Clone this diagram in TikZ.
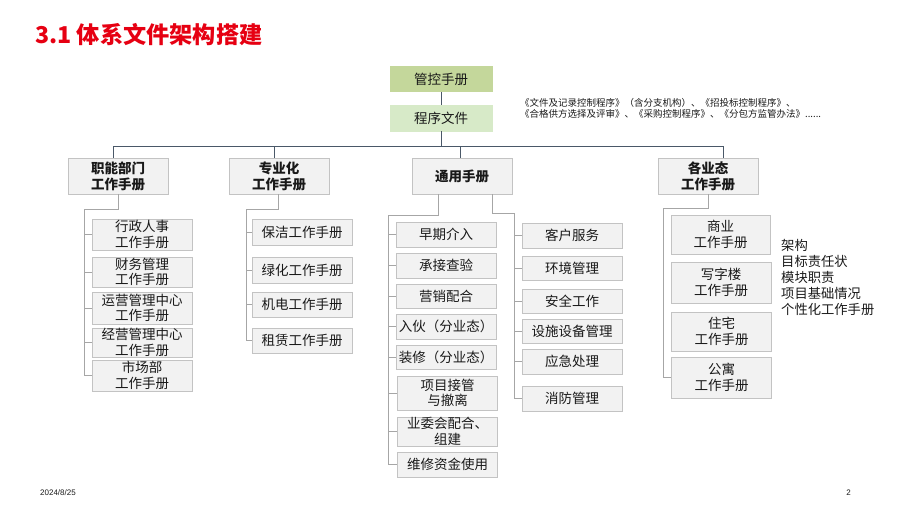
\documentclass[tikz,border=0pt]{standalone}
\usepackage{fontspec}
\setmainfont{Noto Sans CJK SC}
\newfontfamily\footfont{Liberation Sans}
\definecolor{titlered}{HTML}{E60012}
\definecolor{ctrlgreen}{HTML}{C4D79B}
\definecolor{procgreen}{HTML}{D7EAC8}
\definecolor{boxfill}{HTML}{F2F2F2}
\definecolor{boxline}{HTML}{C3C3C3}
\definecolor{busline}{HTML}{4A5868}
\definecolor{subline}{HTML}{A6A6A6}

\begin{document}
\begin{tikzpicture}
[x=1pt,y=-1pt,
every node/.style={inner sep=0pt,align=center,text=black!90,font=\fontsize{13.5}{15.5}\selectfont},
box/.style={draw=boxline,fill=boxfill,line width=.7pt,minimum width=100pt},
head/.style={box,minimum height=36pt,font=\fontsize{13.5}{16}\selectfont\bfseries},
bus/.style={draw=busline,line width=.8pt},
sub/.style={draw=subline,line width=.8pt}]
\useasboundingbox (0,0) rectangle (920,518);
\node[anchor=west,text=titlered,font=\fontsize{23.2}{26}\selectfont\bfseries] (title) at (35,35) {3.1 体系文件架构搭建};
\node[box,fill=ctrlgreen,draw=ctrlgreen,minimum width=102pt,minimum height=25pt] (ctrl) at (441,79) {管控手册};
\node[box,fill=procgreen,draw=procgreen,minimum width=102pt,minimum height=26pt] (proc) at (441,118) {程序文件};
\node[anchor=west,align=left,font=\fontsize{9.5}{11}\selectfont] (note) at (520,108.5) {《文件及记录控制程序》（含分支机构）、《招投标控制程序》、\\《合格供方选择及评审》、《采购控制程序》、《分包方监管办法》......};
\coordinate (bus) at (0,146);
\node[head] (func) at (118,176) {职能部门\\工作手册};
\node[head] (spec) at (279,176) {专业化\\工作手册};
\node[head] (gen) at (462,176) {通用手册};
\node[head] (biz) at (708,176) {各业态\\工作手册};
\draw[bus] (ctrl) -- (proc);
\foreach \to/\dx in {func/-5,spec/-5,gen/-2,biz/15}
\draw[bus] (proc.south) -- (proc.south |- bus) -| ([xshift=\dx pt]\to.north);
% functional departments
\node[box,minimum height=31pt] (f1) at (142,234.5) {行政人事\\工作手册};
\node[box,minimum height=30pt] (f2) at (142,272) {财务管理\\工作手册};
\node[box,minimum height=32pt] (f3) at (142,308) {运营管理中心\\工作手册};
\node[box,minimum height=29pt] (f4) at (142,342.5) {经营管理中心\\工作手册};
\node[box,minimum height=31pt] (f5) at (142,375.5) {市场部\\工作手册};
\coordinate (frail) at (84,209);
\draw[sub] (func.south) |- (frail) |- (f5.west);
\foreach \n in {f1,f2,f3,f4}
\draw[sub] (\n.west) -- (\n.west -| frail);
% specialised
\node[box,minimum height=26pt] (s1) at (302,232) {保洁工作手册};
\node[box,minimum height=26pt] (s2) at (302,270) {绿化工作手册};
\node[box,minimum height=25pt] (s3) at (302,304.5) {机电工作手册};
\node[box,minimum height=25pt] (s4) at (302,340.5) {租赁工作手册};
\coordinate (srail) at (246,209);
\draw[sub] ([xshift=-1pt]spec.south) |- (srail) |- (s4.west);
\foreach \n in {s1,s2,s3}
\draw[sub] (\n.west) -- (\n.west -| srail);
% general manuals
\node[box,minimum height=25pt] (g1) at (446,234.5) {早期介入};
\node[box,minimum height=25pt] (g2) at (446,265.5) {承接查验};
\node[box,minimum height=24pt] (g3) at (446,296) {营销配合};
\node[box,minimum height=25pt] (g4) at (446,326.5) {入伙（分业态）};
\node[box,minimum height=24pt] (g5) at (446,357) {装修（分业态）};
\node[box,minimum height=34pt] (g6) at (447.5,393) {项目接管\\与撤离};
\node[box,minimum height=29pt] (g7) at (447.5,431.5) {业委会配合、\\组建};
\node[box,minimum height=25pt] (g8) at (447.5,464.5) {维修资金使用};
\node[box,minimum height=25pt] (r1) at (572,235.5) {客户服务};
\node[box,minimum height=24pt] (r2) at (572,268) {环境管理};
\node[box,minimum height=24pt] (r3) at (572,301) {安全工作};
\node[box,minimum height=24pt] (r4) at (572,331) {设施设备管理};
\node[box,minimum height=25pt] (r5) at (572,361.5) {应急处理};
\node[box,minimum height=25pt] (r6) at (572,398.5) {消防管理};
\coordinate (grail) at (388,215);
\coordinate (rrail) at (514,213);
\draw[sub] ([xshift=-24pt]gen.south) |- (grail) |- (g8.west);
\draw[sub] ([xshift=30pt]gen.south) |- (rrail) |- (r6.west);
\foreach \n in {g1,g2,g3,g4,g5,g6,g7}
\draw[sub] (\n.west) -- (\n.west -| grail);
\foreach \n in {r1,r2,r3,r4,r5}
\draw[sub] (\n.west) -- (\n.west -| rrail);
% business types
\node[box,minimum width=99pt,minimum height=39pt] (b1) at (720.5,234.5) {商业\\工作手册};
\node[box,minimum height=41pt] (b2) at (721,282.5) {写字楼\\工作手册};
\node[box,minimum height=39pt] (b3) at (721.5,331.5) {住宅\\工作手册};
\node[box,minimum height=41pt] (b4) at (721.5,377.5) {公寓\\工作手册};
\coordinate (brail) at (663,208);
\draw[sub] (biz.south) |- (brail) |- (b4.west);
\node[anchor=west,align=left,font=\fontsize{13.3}{16}\selectfont] (items) at (781,277) {架构\\目标责任状\\模块职责\\项目基础情况\\个性化工作手册};
% footer
\node[anchor=west,font=\footfont\fontsize{8}{9}\selectfont] (date) at (40,493) {2024/8/25};
\node[anchor=east,font=\footfont\fontsize{8}{9}\selectfont] (page) at (851,493) {2};
\end{tikzpicture}
\end{document}
